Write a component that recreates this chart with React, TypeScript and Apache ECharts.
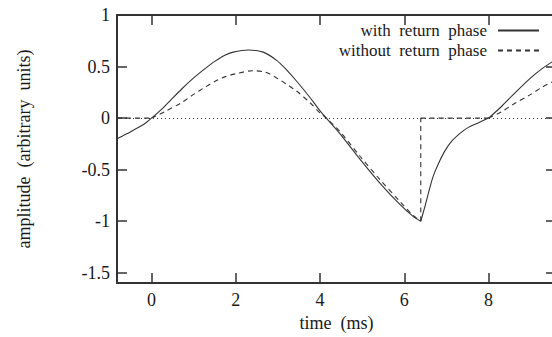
import React, { useEffect, useRef } from "react";
import * as echarts from "echarts";

// time (ms) and amplitude for the pulse "with return phase"
const timeWith = [
  -0.82, -0.6, -0.4, -0.2, 0, 0.3, 0.71, 1.0, 1.27, 1.5, 1.74, 1.94, 2.3, 2.65, 2.97,
  3.21, 3.45, 3.76, 4.0, 4.15, 4.47, 4.95, 5.43, 5.9, 6.2, 6.39, 6.49, 6.57, 6.68, 6.8,
  6.96, 7.12, 7.32, 7.52, 7.75, 8.0, 8.3, 8.59, 9.0, 9.27, 9.6,
];
const ampWith = [
  -0.2, -0.155, -0.11, -0.065, 0, 0.11, 0.28, 0.39, 0.48, 0.55, 0.61, 0.64, 0.66, 0.64, 0.56,
  0.465, 0.355, 0.2, 0.07, 0, -0.15, -0.4, -0.635, -0.84, -0.95, -1.0, -0.855, -0.73, -0.57, -0.45,
  -0.32, -0.226, -0.148, -0.09, -0.047, 0, 0.11, 0.23, 0.39, 0.48, 0.57,
];

// time (ms) and amplitude for the pulse "without return phase"
const timeWithout = [
  -0.82, 0, 0.3, 0.71, 1.0, 1.27, 1.5, 1.74, 2.0, 2.4, 2.7, 2.97, 3.2, 3.45, 3.76, 4.0,
  4.15, 4.47, 4.95, 5.43, 5.9, 6.2, 6.39, 6.39, 8.0, 8.3, 8.59, 9.0, 9.27, 9.6,
];
const ampWithout = [
  0, 0, 0.06, 0.15, 0.23, 0.3, 0.355, 0.4, 0.43, 0.46, 0.445, 0.39, 0.33, 0.26, 0.15, 0.05,
  0, -0.13, -0.37, -0.6, -0.81, -0.94, -1.0, 0, 0, 0.06, 0.135, 0.23, 0.3, 0.37,
];

// instants where the waveforms have a corner (curves are smoothed only between them)
const cornerTimes = [0, 6.39, 8];

const xTicks = [0, 2, 4, 6, 8];
const yTicks = [-1.5, -1, -0.5, 0, 0.5, 1];
const seriesNames = ["with  return  phase", "without  return  phase"];

const FONT = "'Liberation Serif', 'Times New Roman', serif";
const INK = "#1a1a1a";
const LINE = "#333";
const FS = 18;

function splitAtCorners(ts: number[], vs: number[]): number[][][] {
  const pieces: number[][][] = [];
  let cur: number[][] = [];
  ts.forEach((t, i) => {
    cur.push([t, vs[i]]);
    if (cornerTimes.includes(t) && cur.length > 1) {
      pieces.push(cur);
      cur = [[t, vs[i]]];
    }
  });
  if (cur.length > 1) pieces.push(cur);
  return pieces;
}

export default function App() {
  const ref = useRef<HTMLDivElement>(null);

  useEffect(() => {
    if (!ref.current) return;
    const chart = echarts.init(ref.current, undefined, { renderer: "svg" });

    const xRange = { min: -0.82, max: 9.6 };
    const yRange = { min: -1.6, max: 1 };
    const tickStyle = { show: true, inside: true, length: 10, lineStyle: { color: LINE, width: 1.5 } };
    const axisLine = { show: true, onZero: false, lineStyle: { color: LINE, width: 2 } };

    const makeSeries = (name: string, ts: number[], vs: number[], type: any) =>
      splitAtCorners(ts, vs).map((piece) => ({
        name,
        type: "line",
        data: piece,
        xAxisIndex: 0,
        yAxisIndex: 0,
        showSymbol: false,
        symbol: "none",
        smooth: 0.3,
        lineStyle: { color: LINE, width: 1.1, type },
        itemStyle: { color: LINE },
      }));

    chart.setOption({
      animation: false,
      textStyle: { fontFamily: FONT },
      grid: { left: 117, right: 6, top: 15, bottom: 46, containLabel: false },
      legend: {
        data: seriesNames,
        orient: "vertical",
        align: "right",
        right: 22,
        top: 22,
        padding: 0,
        itemWidth: 41,
        itemHeight: 14,
        itemGap: 3,
        itemStyle: { opacity: 0 },
        textStyle: { fontFamily: FONT, fontSize: 17, color: INK, lineHeight: 17, padding: [0, 6, 0, 0] },
        selectedMode: false,
      },
      xAxis: [
        {
          type: "value",
          ...xRange,
          position: "bottom",
          name: "time  (ms)",
          nameLocation: "middle",
          nameGap: 30,
          nameTextStyle: { fontFamily: FONT, fontSize: FS, color: INK },
          axisLine,
          axisTick: { ...tickStyle, customValues: xTicks },
          axisLabel: { customValues: xTicks, fontFamily: FONT, fontSize: FS, color: INK, margin: 8 },
          splitLine: { show: false },
        },
        {
          type: "value",
          ...xRange,
          position: "top",
          axisLine,
          axisTick: { ...tickStyle, customValues: xTicks },
          axisLabel: { show: false },
          splitLine: { show: false },
        },
      ],
      yAxis: [
        {
          type: "value",
          ...yRange,
          position: "left",
          name: "amplitude  (arbitrary  units)",
          nameLocation: "middle",
          nameGap: 84,
          nameRotate: 90,
          nameTextStyle: { fontFamily: FONT, fontSize: FS, color: INK },
          axisLine,
          axisTick: { ...tickStyle, customValues: yTicks },
          axisLabel: { customValues: yTicks, fontFamily: FONT, fontSize: FS, color: INK, margin: 7 },
          splitLine: { show: false },
        },
        {
          type: "value",
          ...yRange,
          position: "right",
          axisLine,
          axisTick: { ...tickStyle, customValues: yTicks },
          axisLabel: { show: false },
          splitLine: { show: false },
        },
      ],
      series: [
        {
          name: "zero",
          type: "line",
          data: [],
          xAxisIndex: 0,
          yAxisIndex: 0,
          markLine: {
            silent: true,
            symbol: "none",
            label: { show: false },
            lineStyle: { color: LINE, width: 1, type: [1, 3] },
            data: [{ yAxis: 0 }],
          },
        },
        ...makeSeries(seriesNames[0], timeWith, ampWith, "solid"),
        ...makeSeries(seriesNames[1], timeWithout, ampWithout, [5, 4]),
      ],
    });

    return () => chart.dispose();
  }, []);

  return (
    <div
      ref={ref}
      style={{ position: "absolute", left: 0, top: 0, width: 562, height: 337, background: "#fff" }}
    />
  );
}
